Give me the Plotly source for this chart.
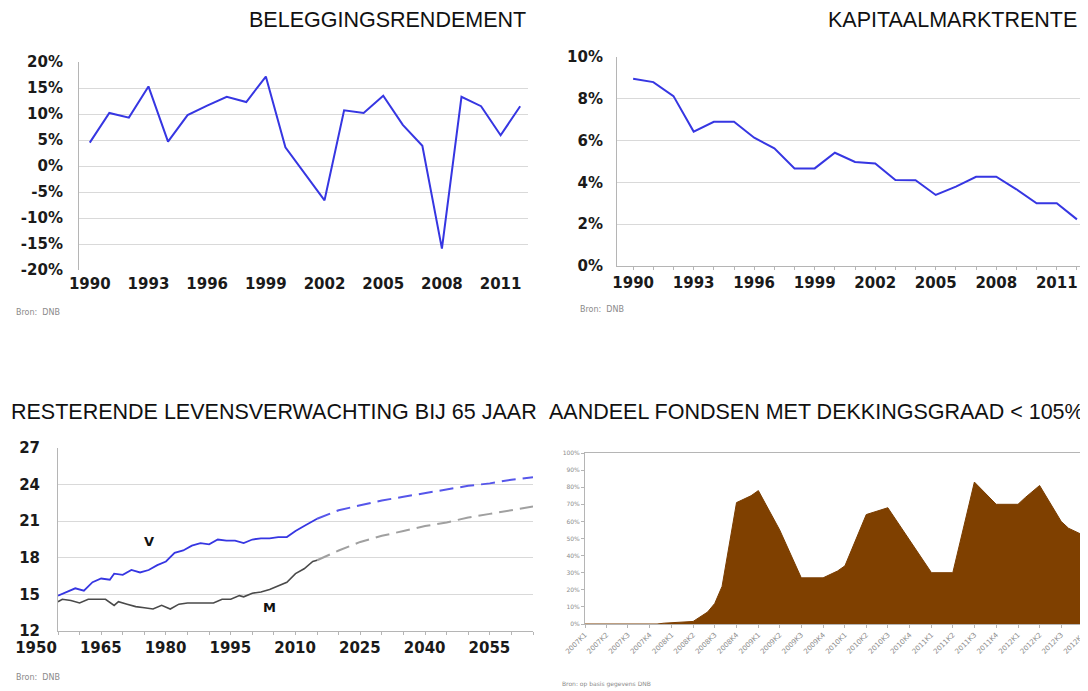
import plotly.graph_objects as go

# the page puts the figure 8 px in from the top-left corner of the window
OFFSET = 8
W, H = 1088 - OFFSET, 691 - OFFSET

# ---- data ----
years = list(range(1990, 2013))
rendement = [4.5, 10.2, 9.3, 15.3, 4.7, 9.8, 11.6, 13.3, 12.3, 17.2, 3.6, -1.5,
             -6.6, 10.7, 10.2, 13.5, 7.9, 3.9, -15.9, 13.3, 11.5, 5.9, 11.5]
rendement_ticks = [-20, -15, -10, -5, 0, 5, 10, 15, 20]
kapitaalmarktrente = [8.96, 8.8, 8.13, 6.43, 6.9, 6.9, 6.14, 5.63, 4.67, 4.67, 5.42, 4.98,
                      4.9, 4.11, 4.1, 3.4, 3.8, 4.27, 4.27, 3.67, 3.0, 3.0, 2.23]

v_hist_years = [1950, 1952, 1954, 1956, 1958, 1960, 1962, 1963, 1965, 1967, 1969, 1971,
                1973, 1975, 1977, 1979, 1981, 1983, 1985, 1987, 1989, 1991, 1993, 1995,
                1997, 1999, 2001, 2003, 2005, 2007, 2009, 2010]
v_hist = [14.9, 15.2, 15.5, 15.3, 16.0, 16.3, 16.2, 16.7, 16.6, 17.0, 16.8, 17.0,
          17.4, 17.7, 18.4, 18.6, 19.0, 19.2, 19.1, 19.5, 19.4, 19.4, 19.2, 19.5,
          19.6, 19.6, 19.7, 19.7, 20.2, 20.6, 21.0, 21.2]
m_hist_years = [1950, 1951, 1953, 1955, 1957, 1959, 1961, 1963, 1964, 1966, 1968, 1970,
                1972, 1974, 1976, 1978, 1980, 1983, 1986, 1988, 1990, 1992, 1993, 1995,
                1997, 1999, 2001, 2003, 2005, 2007, 2009, 2010]
m_hist = [14.4, 14.6, 14.5, 14.3, 14.6, 14.6, 14.6, 14.1, 14.4, 14.2, 14.0, 13.9,
          13.8, 14.1, 13.8, 14.2, 14.3, 14.3, 14.3, 14.6, 14.6, 14.9, 14.8, 15.1,
          15.2, 15.4, 15.7, 16.0, 16.7, 17.1, 17.7, 17.8]
prog_years = [2010, 2015, 2020, 2025, 2030, 2035, 2040, 2045, 2050, 2055, 2060]
v_prog = [21.2, 21.9, 22.3, 22.7, 23.0, 23.3, 23.6, 23.9, 24.1, 24.4, 24.6]
m_prog = [17.8, 18.6, 19.3, 19.8, 20.2, 20.6, 20.9, 21.3, 21.6, 21.9, 22.2]
bl_label_years = [1950, 1965, 1980, 1995, 2010, 2025, 2040, 2055]

fondsen_maanden = ["2007-01", "2007-11", "2007-12", "2008-04", "2008-06", "2008-07",
                   "2008-08", "2008-10", "2008-12", "2009-01", "2009-04", "2009-07",
                   "2009-10", "2009-12", "2010-01", "2010-04", "2010-07", "2011-01",
                   "2011-04", "2011-07", "2011-10", "2012-01", "2012-02", "2012-04",
                   "2012-07", "2012-08", "2012-10"]
fondsen_aandeel = [0, 0, 0.5, 1.5, 7, 12, 22, 71, 75, 78, 55, 27, 27, 31, 34, 64, 68,
                   30, 30, 83, 70, 70, 74, 81, 60, 56, 52]
kwartaal_jaren = [2007, 2008, 2009, 2010, 2011, 2012]
kwartalen = [1, 2, 3, 4]

# ---- styling ----
BLUE = "#3636E2"
GRID = "#d9d9d9"
AXIS = "#b5b5b5"
TICKFONT = dict(family="DejaVu Sans", size=15, color="#1a1a1a", weight="bold")
TITLEFONT = dict(family="Liberation Sans, Arial", size=21.5, color="#111111")
NOTEFONT = dict(family="DejaVu Sans", size=8, color="#8a8a8a")


def px(x):
    # window pixel -> paper fraction
    return (x - OFFSET) / W


def py(y):
    return 1 - (y - OFFSET) / H


fig = go.Figure()

# ── Top left: beleggingsrendement ──
fig.add_trace(go.Scatter(x=years, y=rendement, mode="lines",
                         line=dict(color=BLUE, width=2), xaxis="x", yaxis="y"))

# ── Top right: kapitaalmarktrente ──
fig.add_trace(go.Scatter(x=years, y=kapitaalmarktrente, mode="lines",
                         line=dict(color=BLUE, width=2), xaxis="x2", yaxis="y2"))

# ── Bottom left: levensverwachting ──
fig.add_trace(go.Scatter(x=prog_years, y=m_prog, mode="lines",
                         line=dict(color="#a0a0a0", width=2, dash="14px,7px"),
                         xaxis="x3", yaxis="y3"))
fig.add_trace(go.Scatter(x=prog_years, y=v_prog, mode="lines",
                         line=dict(color="#5656ea", width=2, dash="14px,7px"),
                         xaxis="x3", yaxis="y3"))
fig.add_trace(go.Scatter(x=m_hist_years, y=m_hist, mode="lines",
                         line=dict(color="#4a4a4a", width=1.6), xaxis="x3", yaxis="y3"))
fig.add_trace(go.Scatter(x=v_hist_years, y=v_hist, mode="lines",
                         line=dict(color=BLUE, width=1.8), xaxis="x3", yaxis="y3"))

# ── Bottom right: aandeel fondsen ──
fig.add_trace(go.Scatter(x=fondsen_maanden, y=fondsen_aandeel, mode="lines",
                         line=dict(color="#7a3d00", width=1), fill="tozeroy",
                         fillcolor="#7f4000", xaxis="x4", yaxis="y4"))

kw_ticks = [f"{j}-{(k - 1) * 3 + 1:02d}-01" for j in kwartaal_jaren for k in kwartalen]
kw_text = [f"{j}K{k}" for j in kwartaal_jaren for k in kwartalen]

fig.update_layout(
    width=W, height=H,
    margin=dict(l=0, r=0, t=0, b=0, autoexpand=False),
    paper_bgcolor="white", plot_bgcolor="white",
    showlegend=False,
    xaxis=dict(domain=[px(79), px(528)], anchor="y", range=[1989.45, 2012.4],
               tickvals=list(range(1990, 2013, 3)), tickfont=TICKFONT, automargin=False,
               showgrid=False, showline=False, ticks="", zeroline=False, ticklabelstandoff=3),
    yaxis=dict(domain=[py(270), py(62)], anchor="x", range=[-20, 20],
               tickvals=rendement_ticks, ticktext=[f"{v}%" for v in rendement_ticks],
               tickfont=TICKFONT, showgrid=True, gridcolor=GRID, automargin=False,
               zeroline=False, showline=True, linecolor=AXIS, ticks="", ticklabelstandoff=12),
    # zero-line tick marks for the top left chart
    xaxis5=dict(overlaying="x", anchor="free", position=py(166), range=[1989.45, 2012.4],
                dtick=1, tick0=1990, ticks="inside", ticklen=3, tickcolor="#c8c8c8",
                showticklabels=False, showgrid=False, zeroline=False, showline=False,
                automargin=False),
    xaxis2=dict(domain=[px(617), px(1083)], anchor="y2", range=[1989.2, 2012.3],
                tickvals=list(range(1990, 2013, 3)), tickfont=TICKFONT, automargin=False,
                showgrid=False, zeroline=False, showline=True, linecolor=AXIS,
                ticks="outside", ticklen=3, tickcolor=AXIS,
                minor=dict(dtick=1, tick0=1990, ticks="outside", ticklen=3, tickcolor=AXIS)),
    yaxis2=dict(domain=[py(266), py(57)], anchor="x2", range=[0, 10], dtick=2,
                ticksuffix="%", tickfont=TICKFONT, showgrid=True, gridcolor=GRID, automargin=False,
                zeroline=False, showline=True, linecolor=AXIS, ticks="", ticklabelstandoff=10),
    xaxis3=dict(domain=[px(58), px(533)], anchor="y3", range=[1950, 2060],
                tickvals=bl_label_years, ticktext=[str(j) for j in bl_label_years],
                tickfont=TICKFONT, ticklabelshift=-22, automargin=False,
                showgrid=False, zeroline=False, showline=True, linecolor=AXIS,
                ticks="outside", ticklen=3, tickcolor=AXIS,
                minor=dict(dtick=5, tick0=1950, ticks="outside", ticklen=3, tickcolor=AXIS)),
    yaxis3=dict(domain=[py(631), py(448)], anchor="x3", range=[12, 27], dtick=3,
                tickfont=TICKFONT, showgrid=True, gridcolor=GRID, automargin=False,
                zeroline=False, showline=True, linecolor=AXIS, ticks="", ticklabelstandoff=14),
    xaxis4=dict(domain=[px(585), px(1083)], anchor="y4", type="date",
                range=["2007-01-01", "2012-10-01"], automargin=False,
                tickvals=kw_ticks, ticktext=kw_text, tickangle=-45,
                tickfont=dict(family="DejaVu Sans", size=7, color="#8c8c8c"),
                showgrid=False, zeroline=False, showline=True, linecolor=AXIS,
                mirror=True, ticks="outside", ticklen=3, tickcolor=AXIS),
    yaxis4=dict(domain=[py(624), py(453)], anchor="x4", range=[0, 100], dtick=10,
                ticksuffix="%", tickfont=dict(family="DejaVu Sans", size=6, color="#8c8c8c"),
                showgrid=False, zeroline=False, showline=True, linecolor=AXIS, automargin=False,
                ticks="outside", ticklen=3, tickcolor=AXIS),
)

# titles
titles = [
    ("BELEGGINGSRENDEMENT", 528, 20, "right"),
    ("KAPITAALMARKTRENTE", 1079, 20, "right"),
    ("RESTERENDE LEVENSVERWACHTING BIJ 65 JAAR", 9, 412, "left"),
    ("AANDEEL FONDSEN MET DEKKINGSGRAAD &lt; 105%", 547, 412, "left"),
]
for text, x, y, anchor in titles:
    fig.add_annotation(text=text, xref="paper", yref="paper", x=px(x), y=py(y),
                       xanchor=anchor, yanchor="middle", showarrow=False, font=TITLEFONT)

# sources
notes = [
    ("Bron:  DNB", 14, 313, NOTEFONT),
    ("Bron:  DNB", 578, 310, NOTEFONT),
    ("Bron:  DNB", 14, 677, NOTEFONT),
    ("Bron: op basis gegevens DNB", 560, 684, dict(family="DejaVu Sans", size=6, color="#8a8a8a")),
]
for text, x, y, font in notes:
    fig.add_annotation(text=text, xref="paper", yref="paper", x=px(x), y=py(y),
                       xanchor="left", yanchor="middle", showarrow=False, font=font)

# V / M labels
fig.add_annotation(text="<b>V</b>", x=1971, y=19.3, xref="x3", yref="y3", showarrow=False,
                   font=dict(family="DejaVu Sans", size=13, color="#111"))
fig.add_annotation(text="<b>M</b>", x=1999, y=13.9, xref="x3", yref="y3", showarrow=False,
                   font=dict(family="DejaVu Sans", size=13, color="#111"))

fig.write_html("out.html")
